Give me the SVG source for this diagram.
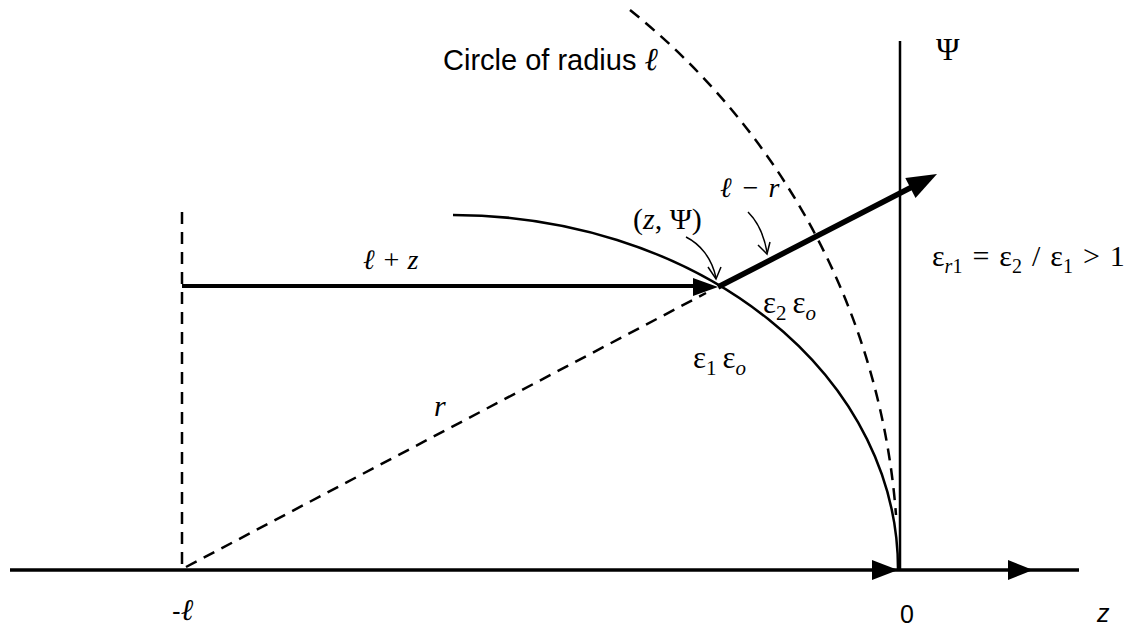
<svg xmlns="http://www.w3.org/2000/svg" width="1132" height="628" viewBox="0 0 1132 628">
<style>
.ln{fill:none;stroke:#000;stroke-linecap:butt}
.dash{fill:none;stroke:#000;stroke-width:2.5;stroke-dasharray:12 8}
.thin{fill:none;stroke:#000;stroke-width:1.5}
.head{fill:#000;stroke:none}
.sans{font-family:"Liberation Sans",Arial,sans-serif;fill:#000}
.serif{font-family:"Liberation Serif","Times New Roman",serif;fill:#000}
.it{font-style:italic}
</style>
<rect width="1132" height="628" fill="#fff"/>
<g id="curves">
<path class="dash" d="M630,10 A716,716 0 0 1 896,515"/>
<path class="ln" stroke-width="2.5" d="M453,215 A445,354 0 0 1 898,570"/>
<line class="dash" x1="182" y1="212" x2="182" y2="567"/>
<line class="dash" x1="186" y1="567" x2="706" y2="293"/>
</g>
<g id="connectors">
<line class="ln" stroke-width="3.5" x1="10" y1="570" x2="1079" y2="570"/>
<polygon class="head" points="898,570 872,560 872,580"/>
<polygon class="head" points="1033,570 1008,560 1008,580"/>
<line class="ln" stroke-width="2.5" x1="900" y1="41" x2="900" y2="570"/>
<line class="ln" stroke-width="4" x1="182" y1="286" x2="700" y2="286"/>
<polygon class="head" points="718,287 693,278 693,296"/>
<line class="ln" stroke-width="5.5" x1="718" y1="287" x2="912" y2="187"/>
<polygon class="head" points="937,174 915.5,198 905.3,178"/>
<path class="thin" d="M686,237 C700,244 712,258 716,278"/>
<path class="thin" d="M708,267 L716,279 L721,267"/>
<path class="thin" d="M748,212 C758,222 764,235 767,252"/>
<path class="thin" d="M758,245 L767,254 L770,242"/>
</g>
<g id="labels">
<text class="sans" x="443" y="70" font-size="29">Circle of radius <tspan class="serif it" font-size="32">ℓ</tspan></text>
<text class="serif" x="936" y="60" font-size="32">Ψ</text>
<text class="serif it" x="363" y="269" font-size="28">ℓ + z</text>
<text class="serif" x="633" y="229" font-size="30">(<tspan class="it">z</tspan>, Ψ)</text>
<text class="serif it" x="720" y="197" font-size="28" word-spacing="2">ℓ − r</text>
<text class="serif it" x="434" y="416" font-size="30">r</text>
<text class="serif" x="763" y="313" font-size="31">ε<tspan font-size="21" dy="7">2</tspan><tspan dx="6" dy="-7">ε</tspan><tspan class="it" font-size="21" dy="7">o</tspan></text>
<text class="serif" x="693" y="368" font-size="31">ε<tspan font-size="21" dy="7">1</tspan><tspan dx="6" dy="-7">ε</tspan><tspan class="it" font-size="21" dy="7">o</tspan></text>
<text class="serif" x="932" y="266" font-size="30" word-spacing="2.5">ε<tspan class="it" font-size="20" dy="7">r</tspan><tspan font-size="20">1</tspan><tspan dy="-7"> = ε</tspan><tspan font-size="20" dy="7">2</tspan><tspan dy="-7"> / ε</tspan><tspan font-size="20" dy="7">1</tspan><tspan dy="-7"> &gt; 1</tspan></text>
<text class="sans" x="172" y="620" font-size="26">-<tspan class="serif it" font-size="30">ℓ</tspan></text>
<text class="sans" x="900" y="623" font-size="25">0</text>
<text class="sans it" x="1097" y="622" font-size="25">z</text>
</g>
</svg>
